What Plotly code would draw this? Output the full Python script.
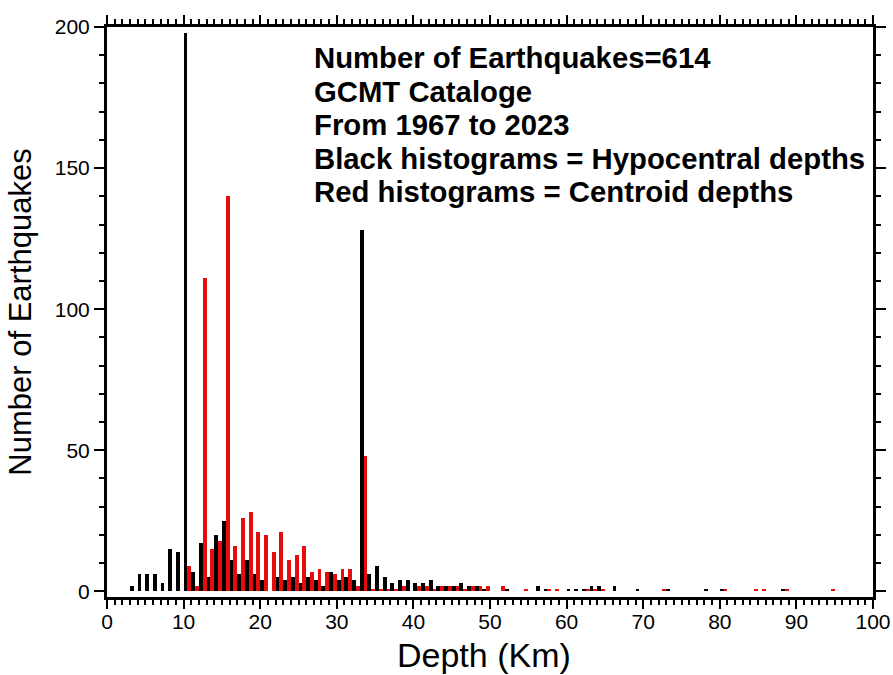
import plotly.graph_objects as go

# Hypocentral depth histogram (black), 1-km bins
hypo_depth = [3, 4, 5, 6, 7, 8, 9, 10, 11, 12, 13, 14, 15, 16, 17, 18, 19, 20,
              22, 23, 24, 25, 26, 27, 28, 29, 30, 31, 32, 33, 34, 35, 36, 37, 38,
              39, 40, 41, 42, 43, 44, 45, 46, 47, 48, 49, 52, 56, 57, 60, 61, 62,
              63, 64, 66, 69, 73, 78, 80, 88]
hypo_count = [2, 6, 6, 6, 3, 15, 14, 198, 7, 17, 5, 20, 25, 11, 6, 11, 6, 4,
              5, 4, 5, 3, 5, 4, 2, 7, 4, 5, 4, 128, 6, 9, 5, 3, 4,
              4, 3, 3, 4, 2, 2, 2, 3, 2, 2, 1, 1, 2, 1, 1, 1, 1,
              2, 2, 2, 1, 1, 1, 1, 1]

# Centroid depth histogram (red), 1-km bins
cent_depth = [10, 11, 12, 13, 14, 15, 16, 17, 18, 19, 20, 21, 22, 23, 24, 25, 26,
              27, 28, 29, 30, 31, 32, 33, 34, 35, 36, 37, 38, 40, 41, 42, 43, 44,
              45, 46, 47, 48, 49, 51, 54, 57, 58, 62, 63, 64, 72, 80, 84, 85, 88, 94]
cent_count = [9, 2, 111, 15, 18, 140, 16, 26, 28, 21, 20, 14, 21, 11, 13, 16, 7,
              8, 7, 6, 8, 8, 2, 48, 1, 1, 1, 1, 2, 2, 2, 1, 2, 2,
              2, 1, 2, 2, 2, 2, 1, 1, 1, 1, 1, 1, 1, 1, 1, 1, 1, 1]

info_lines = ["Number of Earthquakes=614", "GCMT Cataloge", "From 1967 to 2023",
              "Black histograms = Hypocentral depths", "Red histograms = Centroid depths"]

x_ticks = list(range(0, 101, 10))
y_ticks = list(range(0, 201, 50))

fig = go.Figure()
fig.add_trace(go.Bar(x=hypo_depth, y=hypo_count, width=0.5, offset=0.0,
                     marker=dict(color="black", line=dict(width=0)), name="Hypocentral"))
fig.add_trace(go.Bar(x=cent_depth, y=cent_count, width=0.5, offset=0.5,
                     marker=dict(color="rgb(228,12,12)", line=dict(width=0)), name="Centroid"))

PL, PR, PT, PB = 107, 873, 27, 597.5
for i, t in enumerate(info_lines):
    fig.add_annotation(text="<b>%s</b>" % t, xref="paper", yref="paper",
                       x=(312 - PL) / (PR - PL), xanchor="left",
                       y=(PB - (58 + 33.5 * i)) / (PB - PT), yanchor="middle",
                       showarrow=False,
                       font=dict(family="Liberation Sans, Arial, sans-serif", size=29.3, color="black"))

# x-axis title as an annotation for precise placement
fig.add_annotation(text="Depth (Km)", xref="paper", yref="paper",
                   x=(484 - PL) / (PR - PL), xanchor="center",
                   y=(PB - 656) / (PB - PT), yanchor="middle", showarrow=False,
                   font=dict(family="Liberation Sans, Arial, sans-serif", size=34, color="black"))

tickfont = dict(family="Liberation Sans, Arial, sans-serif", size=21, color="black")

fig.update_layout(
    width=893, height=675,
    margin=dict(l=PL, r=893 - PR, t=PT, b=675 - PB),
    paper_bgcolor="white", plot_bgcolor="white",
    barmode="overlay", bargap=0, showlegend=False,
    font=dict(family="Liberation Sans, Arial, sans-serif", color="black"),
    xaxis=dict(range=[0, 100], tickvals=x_ticks, ticktext=[str(v) for v in x_ticks],
               ticks="outside", ticklen=9, tickwidth=2, tickcolor="black",
               ticklabelstandoff=-5,
               minor=dict(dtick=1, ticks="outside", ticklen=5, tickwidth=1.5, tickcolor="black"),
               showline=True, linewidth=3, linecolor="black", mirror="allticks",
               showgrid=False, zeroline=False, tickfont=tickfont, automargin=False),
    yaxis=dict(range=[-2, 200], tickvals=y_ticks, ticktext=[str(v) for v in y_ticks],
               ticks="outside", ticklen=10, tickwidth=2, tickcolor="black",
               minor=dict(dtick=10, ticks="outside", ticklen=5, tickwidth=1.5, tickcolor="black"),
               showline=True, linewidth=3, linecolor="black", mirror="allticks",
               showgrid=False, zeroline=False, tickfont=tickfont, automargin=False,
               title=dict(text="Number of Earthquakes", font=dict(size=31), standoff=14)),
)

fig.write_html("out.html")
